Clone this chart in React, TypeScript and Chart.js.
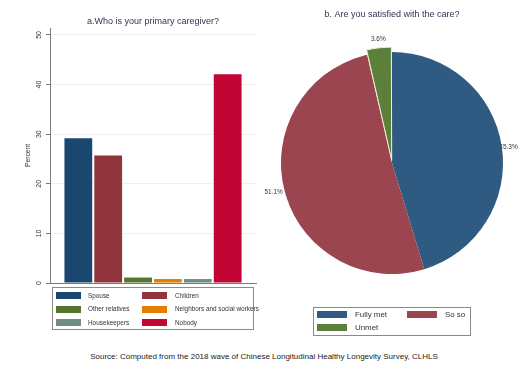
import React, { useEffect, useRef } from "react";
import { Chart, registerables } from "chart.js";

Chart.register(...registerables);

// ---------- Data ----------
const caregiverCategories = [
  "Spouse",
  "Children",
  "Other relatives",
  "Neighbors and social workers",
  "Housekeepers",
  "Nobody",
];
const caregiverValues = [29.2, 25.7, 1.1, 0.8, 0.8, 42.1];
const caregiverColors = ["#1a476f", "#90353b", "#55752f", "#e37e00", "#6e8e84", "#c10534"];
const yTicks = [0, 10, 20, 30, 40, 50];

const satisfactionCategories = ["Fully met", "So so", "Unmet"];
const satisfactionValues = [45.3, 51.1, 3.6];
const satisfactionColors = ["#2f5a82", "#9b4550", "#5b803a"];

const barTitle = "a.Who is your primary caregiver?";
const pieTitle = "b. Are you satisfied with the care?";
const yAxisTitle = "Percent";
const sourceNote =
  "Source: Computed from the 2018 wave of Chinese Longitudinal Healthy Longevity Survey, CLHLS";

const FONT = '"Liberation Sans", Arial, sans-serif';
const TEXT = "#333333";
const TITLE = "#2e3652";

type LegendItem = { label: string; color: string };

function BoxLegend(props: {
  items: LegendItem[];
  left: number;
  top: number;
  width: number;
  height: number;
  rowTops: number[];
  colSwatch: number[];
  colText: number[];
  swatchW: number;
  swatchH: number;
  fontSize: number;
}) {
  const { items, left, top, width, height, rowTops, colSwatch, colText, swatchW, swatchH, fontSize } = props;
  return (
    <div
      style={{
        position: "absolute",
        left,
        top,
        width,
        height,
        border: "1px solid #8a8a8a",
        boxSizing: "border-box",
        overflow: "visible",
      }}
    >
      {items.map((it, i) => {
        const row = Math.floor(i / 2);
        const col = i % 2;
        const rt = rowTops[row] - top;
        return (
          <React.Fragment key={it.label}>
            <div
              style={{
                position: "absolute",
                left: colSwatch[col] - left - 1,
                top: rt - 1,
                width: swatchW,
                height: swatchH,
                background: it.color,
              }}
            />
            <div
              style={{
                position: "absolute",
                left: colText[col] - left - 1,
                top: rt - 1 + swatchH / 2 - fontSize * 0.6,
                height: fontSize * 1.2,
                lineHeight: `${fontSize * 1.2}px`,
                fontSize,
                fontFamily: FONT,
                color: TEXT,
                whiteSpace: "nowrap",
              }}
            >
              {it.label}
            </div>
          </React.Fragment>
        );
      })}
    </div>
  );
}

export default function App() {
  const barRef = useRef<HTMLCanvasElement>(null);
  const pieRef = useRef<HTMLCanvasElement>(null);

  useEffect(() => {
    const yTickLabels = {
      id: "yTickLabels",
      afterDraw(chart: any) {
        const s = chart.scales.y;
        const ctx = chart.ctx;
        ctx.save();
        ctx.font = `7px ${FONT}`;
        ctx.fillStyle = TEXT;
        ctx.textAlign = "center";
        ctx.textBaseline = "middle";
        yTicks.forEach((v) => {
          const py = s.getPixelForValue(v);
          ctx.save();
          ctx.translate(s.right - 11, py);
          ctx.rotate(-Math.PI / 2);
          ctx.fillText(String(v), 0, 0);
          ctx.restore();
        });
        ctx.restore();
      },
    };

    const bar = new Chart(barRef.current!, {
      type: "bar",
      data: {
        labels: [""],
        datasets: caregiverCategories.map((c, i) => ({
          label: c,
          data: [caregiverValues[i]],
          backgroundColor: caregiverColors[i],
          borderWidth: 0,
          categoryPercentage: 0.87,
          barPercentage: 0.93,
        })),
      },
      options: {
        responsive: false,
        maintainAspectRatio: false,
        animation: false,
        layout: { padding: { left: 0, right: 8, top: 0, bottom: 0 } },
        plugins: {
          legend: { display: false },
          tooltip: { enabled: false },
          title: {
            display: true,
            text: barTitle,
            fullSize: false,
            color: TITLE,
            font: { family: FONT, size: 9, weight: "normal" },
            padding: { top: 16.6, bottom: 0.6 },
          },
        },
        scales: {
          x: {
            type: "category",
            grid: { display: false },
            ticks: { display: false },
            border: { display: true, color: "#7a7a7a", width: 1 },
            afterFit: (scale: any) => {
              scale.height = 7;
            },
          },
          y: {
            min: 0,
            max: 51.4,
            afterBuildTicks: (scale: any) => {
              scale.ticks = yTicks.map((v) => ({ value: v }));
            },
            grid: {
              color: (ctx: any) => (ctx.tick && ctx.tick.value === 0 ? "rgba(0,0,0,0)" : "#efefef"),
              drawTicks: true,
              tickLength: 4,
              tickColor: "#7a7a7a",
            },
            border: { display: true, color: "#7a7a7a", width: 1 },
            ticks: { display: false },
            title: {
              display: true,
              text: yAxisTitle,
              color: TEXT,
              font: { family: FONT, size: 6.7 },
              padding: { top: 24, bottom: 0 },
            },
            afterFit: (scale: any) => {
              scale.width = 50;
            },
          },
        },
      } as any,
      plugins: [yTickLabels],
    });

    const pieLabels = {
      id: "pieLabels",
      beforeDatasetsDraw(chart: any) {
        const ctx = chart.ctx;
        const meta = chart.getDatasetMeta(0);
        ctx.save();
        ctx.font = `6.5px ${FONT}`;
        ctx.fillStyle = TEXT;
        meta.data.forEach((arc: any, i: number) => {
          const { x, y, startAngle, endAngle, outerRadius } = arc.getProps(
            ["x", "y", "startAngle", "endAngle", "outerRadius"],
            true
          );
          const mid = (startAngle + endAngle) / 2;
          const c = Math.cos(mid);
          const s = Math.sin(mid);
          const text = satisfactionValues[i].toFixed(1) + "%";
          if (Math.abs(c) > 0.5) {
            const r = outerRadius + (c > 0 ? -2.5 : 2);
            ctx.textAlign = c > 0 ? "left" : "right";
            ctx.textBaseline = "middle";
            ctx.fillText(text, x + c * r, y + s * r);
          } else {
            const off = (arc.options.offset || 0) * 0.45;
            const r = outerRadius + off + 5;
            ctx.textAlign = "center";
            ctx.textBaseline = s < 0 ? "bottom" : "top";
            ctx.fillText(text, x + c * r, y + s * r);
          }
        });
        ctx.restore();
      },
    };

    const pie = new Chart(pieRef.current!, {
      type: "pie",
      data: {
        labels: satisfactionCategories,
        datasets: [
          {
            data: satisfactionValues,
            backgroundColor: satisfactionColors,
            borderWidth: [0, 0, 1],
            borderColor: ["#ffffff", "#ffffff", "#efeed8"],
            offset: [0, 0, 11],
            radius: 111,
          },
        ],
      },
      options: {
        responsive: false,
        maintainAspectRatio: false,
        animation: false,
        layout: { padding: { left: 0, right: 8, top: 0, bottom: 4 } },
        plugins: {
          legend: { display: false },
          tooltip: { enabled: false },
          title: {
            display: true,
            text: pieTitle,
            color: TITLE,
            font: { family: FONT, size: 9, weight: "normal" },
            padding: { top: 9.6, bottom: 9.6 },
          },
        },
      } as any,
      plugins: [pieLabels],
    });

    return () => {
      bar.destroy();
      pie.destroy();
    };
  }, []);

  const barItems = caregiverCategories.map((c, i) => ({ label: c, color: caregiverColors[i] }));
  const pieItems = satisfactionCategories.map((c, i) => ({ label: c, color: satisfactionColors[i] }));

  return (
    <div
      style={{
        position: "absolute",
        left: 0,
        top: 0,
        width: 528,
        height: 384,
        background: "#ffffff",
        overflow: "hidden",
        fontFamily: FONT,
      }}
    >
      <canvas
        ref={barRef}
        width={264}
        height={290}
        style={{ position: "absolute", left: 0, top: 0, width: 264, height: 290 }}
      />
      <canvas
        ref={pieRef}
        width={264}
        height={300}
        style={{ position: "absolute", left: 264, top: 0, width: 264, height: 300 }}
      />
      <BoxLegend
        items={barItems}
        left={52}
        top={287}
        width={202}
        height={43}
        rowTops={[292, 305.5, 319]}
        colSwatch={[56, 142]}
        colText={[88, 175]}
        swatchW={25}
        swatchH={7}
        fontSize={6.4}
      />
      <BoxLegend
        items={pieItems}
        left={313}
        top={307}
        width={158}
        height={29}
        rowTops={[311, 324]}
        colSwatch={[317, 407]}
        colText={[355, 445]}
        swatchW={30}
        swatchH={7}
        fontSize={7.9}
      />
      <div
        style={{
          position: "absolute",
          left: 0,
          width: 528,
          top: 352,
          textAlign: "center",
          fontSize: 8,
          lineHeight: "10px",
          color: "#222222",
          fontFamily: FONT,
          whiteSpace: "nowrap",
        }}
      >
        {sourceNote}
      </div>
    </div>
  );
}
